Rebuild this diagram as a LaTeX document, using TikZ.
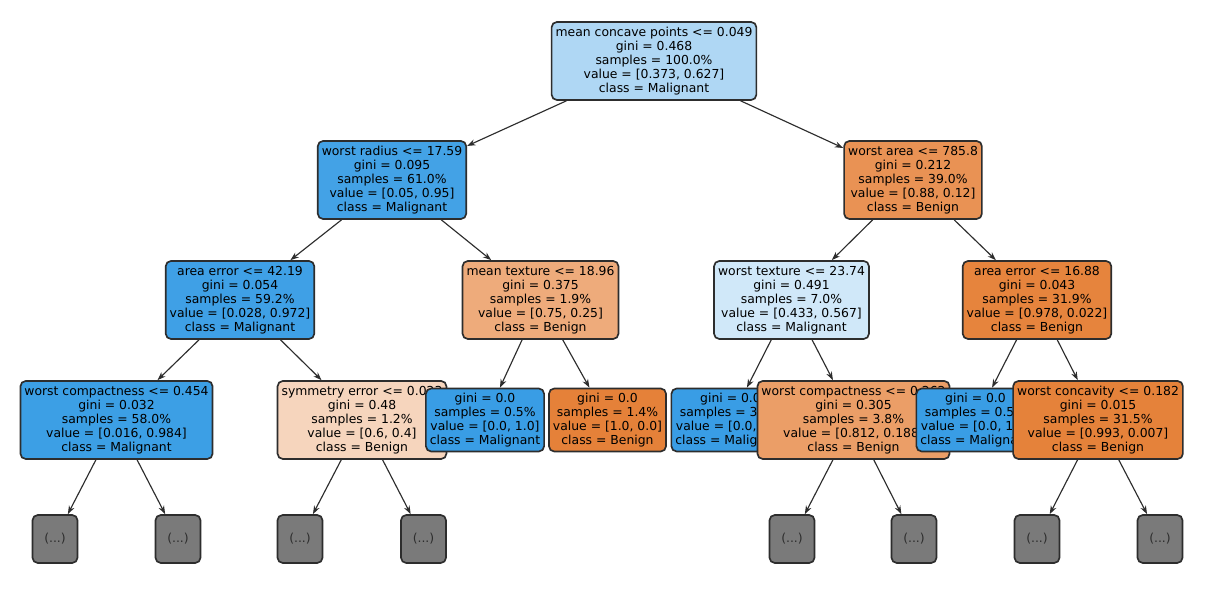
\documentclass[tikz,border=0pt]{standalone}
\usepackage{fontspec}
\setmainfont{DejaVu Sans}
\usepackage{tikz}
\usetikzlibrary{arrows.meta, positioning}
\usepackage{xcolor}
\definecolor{MB}{RGB}{57,157,229}
\definecolor{BO}{RGB}{229,129,57}
\definecolor{EC}{RGB}{45,45,45}
\definecolor{GR}{RGB}{122,122,122}

\begin{document}
\begin{tikzpicture}[
  split/.style={draw=EC, fill=#1, rounded corners=3pt, line width=0.95pt,
                minimum height=1.56cm, inner xsep=0.08cm, inner ysep=0.04cm,
                align=center, font=\fontsize{7.05}{7.95}\selectfont},
  leaf/.style={split=#1, minimum height=1.26cm},
  more/.style={draw=EC, fill=GR, rounded corners=3pt, line width=0.95pt,
               minimum width=0.9cm, minimum height=0.96cm, inner sep=0pt,
               text=EC, font=\fontsize{7.05}{7.95}\selectfont},
  arr/.style={-{Stealth[length=4.8pt, width=3.4pt]}, line width=0.65pt, draw=EC}
]
\useasboundingbox[fill=white] (0,0) rectangle (24.62,11.96);

% Root
\node[split=MB!40.5!white] (root) at (13.08,10.74)
  {mean concave points <= 0.049\\gini = 0.468\\samples = 100.0\%\\value = [0.373, 0.627]\\class = Malignant};

% Left branch
\node[split=MB!94.7!white] (wrad) at (7.84,8.36)
  {worst radius <= 17.59\\gini = 0.095\\samples = 61.0\%\\value = [0.05, 0.95]\\class = Malignant};
\node[split=MB!97.1!white] (aerr1) at (4.80,5.96)
  {area error <= 42.19\\gini = 0.054\\samples = 59.2\%\\value = [0.028, 0.972]\\class = Malignant};
\node[split=MB!98.4!white] (wcomp1) at (2.33,3.56)
  {worst compactness <= 0.454\\gini = 0.032\\samples = 58.0\%\\value = [0.016, 0.984]\\class = Malignant};
\node[more] (m1) at (1.10,1.18) {(...)};
\node[more] (m2) at (3.56,1.18) {(...)};
\node[split=BO!33.3!white] (symerr) at (7.24,3.56)
  {symmetry error <= 0.023\\gini = 0.48\\samples = 1.2\%\\value = [0.6, 0.4]\\class = Benign};
\node[more] (m3) at (6.00,1.18) {(...)};
\node[more] (m4) at (8.47,1.18) {(...)};
\node[split=BO!66.7!white] (mtex) at (10.81,5.96)
  {mean texture <= 18.96\\gini = 0.375\\samples = 1.9\%\\value = [0.75, 0.25]\\class = Benign};
\node[leaf=MB] (lmal1) at (9.70,3.56)
  {gini = 0.0\\samples = 0.5\%\\value = [0.0, 1.0]\\class = Malignant};
\node[leaf=BO] (lben1) at (12.15,3.56)
  {gini = 0.0\\samples = 1.4\%\\value = [1.0, 0.0]\\class = Benign};

% Right branch
\node[split=BO!86.4!white] (warea) at (18.26,8.36)
  {worst area <= 785.8\\gini = 0.212\\samples = 39.0\%\\value = [0.88, 0.12]\\class = Benign};
\node[split=MB!23.6!white] (wtex) at (15.83,5.96)
  {worst texture <= 23.74\\gini = 0.491\\samples = 7.0\%\\value = [0.433, 0.567]\\class = Malignant};
\node[leaf=MB] (lmal2) at (14.61,3.56)
  {gini = 0.0\\samples = 3.2\%\\value = [0.0, 1.0]\\class = Malignant};
\node[split=BO!76.8!white] (wcomp2) at (17.07,3.56)
  {worst compactness <= 0.262\\gini = 0.305\\samples = 3.8\%\\value = [0.812, 0.188]\\class = Benign};
\node[more] (m5) at (15.84,1.18) {(...)};
\node[more] (m6) at (18.28,1.18) {(...)};
\node[split=BO!97.8!white] (aerr2) at (20.74,5.96)
  {area error <= 16.88\\gini = 0.043\\samples = 31.9\%\\value = [0.978, 0.022]\\class = Benign};
\node[leaf=MB] (lmal3) at (19.51,3.56)
  {gini = 0.0\\samples = 0.5\%\\value = [0.0, 1.0]\\class = Malignant};
\node[split=BO!99.3!white] (wconc) at (21.96,3.56)
  {worst concavity <= 0.182\\gini = 0.015\\samples = 31.5\%\\value = [0.993, 0.007]\\class = Benign};
\node[more] (m7) at (20.74,1.18) {(...)};
\node[more] (m8) at (23.20,1.18) {(...)};

% Arrows
\draw[arr] (root)--(wrad);
\draw[arr] (root)--(warea);
\draw[arr] (wrad)--(aerr1);
\draw[arr] (wrad)--(mtex);
\draw[arr] (aerr1)--(wcomp1);
\draw[arr] (aerr1)--(symerr);
\draw[arr] (wcomp1)--(m1);
\draw[arr] (wcomp1)--(m2);
\draw[arr] (symerr)--(m3);
\draw[arr] (symerr)--(m4);
\draw[arr] (mtex)--(lmal1);
\draw[arr] (mtex)--(lben1);
\draw[arr] (warea)--(wtex);
\draw[arr] (warea)--(aerr2);
\draw[arr] (wtex)--(lmal2);
\draw[arr] (wtex)--(wcomp2);
\draw[arr] (wcomp2)--(m5);
\draw[arr] (wcomp2)--(m6);
\draw[arr] (aerr2)--(lmal3);
\draw[arr] (aerr2)--(wconc);
\draw[arr] (wconc)--(m7);
\draw[arr] (wconc)--(m8);
\end{tikzpicture}
\end{document}
